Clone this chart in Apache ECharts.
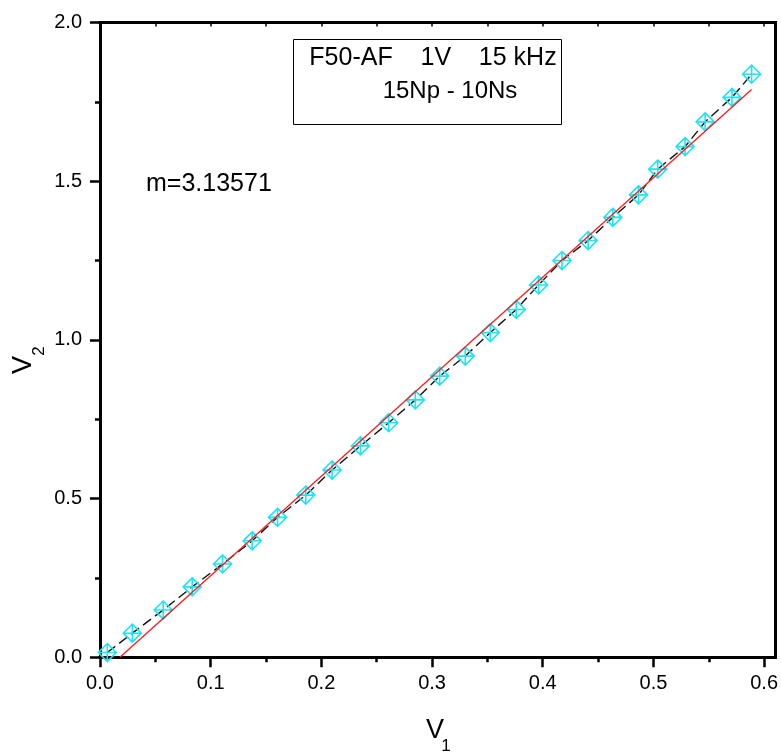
<!DOCTYPE html>
<html>
<head>
<meta charset="utf-8">
<title>F50-AF V2 vs V1</title>
<script src="https://cdn.jsdelivr.net/npm/echarts@6/dist/echarts.min.js"></script>
<style>
	html, body { margin: 0; padding: 0; background: #fff; }
	#main { width: 781px; height: 753px; }
</style>
</head>
<body>
<div id="main"></div>
<script>
	// measured points (V1 primary, V2 secondary)
	var v1 = [0.0066, 0.0292, 0.0571, 0.0833, 0.1107, 0.1375, 0.1604, 0.1859, 0.2097, 0.2353, 0.2608, 0.2849, 0.3069,
		0.3300, 0.3526, 0.3761, 0.3962, 0.4174, 0.4410, 0.4633, 0.4865, 0.5039, 0.5286, 0.5467, 0.5710, 0.5887];
	var v2 = [0.015, 0.076, 0.149, 0.222, 0.294, 0.367, 0.441, 0.511, 0.590, 0.666, 0.739, 0.811, 0.886,
		0.949, 1.023, 1.096, 1.173, 1.250, 1.313, 1.386, 1.457, 1.538, 1.609, 1.687, 1.764, 1.837];

	// linear fit, drawn between its two end points
	var fitX = [0.018, 0.5887];
	var fitY = [0.0, 1.789];
	var slopeText = 'm=3.13571';

	var xTicks = [0, 0.1, 0.2, 0.3, 0.4, 0.5, 0.6];
	var xMinor = [0.05, 0.15, 0.25, 0.35, 0.45, 0.55];
	var yTicks = [0, 0.5, 1.0, 1.5, 2.0];
	var yMinor = [0.25, 0.75, 1.25, 1.75];

	var font = 'Liberation Sans, Arial, sans-serif';
	var cyan = '#1ee4f4';

	function zip(a, b) {
		var out = [];
		for (var i = 0; i < a.length; i++) out.push([a[i], b[i]]);
		return out;
	}

	// one value axis, only the parts asked for are shown
	function axis(pos, max, opts) {
		return {
			type: 'value', position: pos, min: 0, max: max,
			splitLine: { show: false },
			axisLine: { show: !!opts.line, onZero: false, lineStyle: { color: '#000', width: 3, cap: 'square' } },
			axisTick: {
				show: !!opts.ticks, inside: !!opts.inside, customValues: opts.ticks || [],
				length: opts.len || 10, lineStyle: { color: '#000', width: opts.tw || 2.5 }
			},
			axisLabel: opts.labels ? {
				customValues: opts.labels, margin: opts.margin, color: '#000', fontSize: 20, fontFamily: font,
				formatter: function (v) { return v.toFixed(1); }
			} : { show: false }
		};
	}

	var myChart = echarts.init(document.getElementById('main'));

	var option = {
		animation: false,
		backgroundColor: '#fff',
		grid: { left: 100, right: 5, top: 22.5, bottom: 95.7 },
		xAxis: [
			axis('bottom', 0.61, { line: true, ticks: xTicks, labels: xTicks, margin: 16 }),
			axis('bottom', 0.61, { ticks: xMinor, len: 5 }),
			axis('top', 0.61, { line: true, ticks: xTicks.concat(xMinor), inside: true, len: 4, tw: 1.5 })
		],
		yAxis: [
			axis('left', 2, { line: true, ticks: yTicks, labels: yTicks, margin: 18 }),
			axis('left', 2, { ticks: yMinor, len: 5 }),
			axis('right', 2, { line: true })
		],
		series: [
			{
				type: 'line',
				data: zip(v1, v2),
				symbol: 'path://M10,0 L20,10 L10,20 L0,10 Z M10,0 L10,20 M0,10 L20,10',
				symbolSize: 18,
				showAllSymbol: true,
				lineStyle: { color: '#111', width: 1.4, type: [10, 5] },
				itemStyle: { color: 'rgba(0,0,0,0)', borderColor: cyan, borderWidth: 1.6 },
				emphasis: { disabled: true },
				z: 3
			},
			{
				type: 'line',
				data: zip(fitX, fitY),
				symbol: 'none',
				lineStyle: { color: '#ff1a1a', width: 1.3 },
				emphasis: { disabled: true },
				z: 4
			}
		],
		graphic: [
			{
				type: 'rect', left: 293, top: 39,
				shape: { width: 268, height: 85 },
				style: { fill: '#fff', stroke: '#000', lineWidth: 1 },
				z: 10
			},
			{
				type: 'text', x: 433, y: 58,
				style: { text: 'F50-AF    1V    15 kHz', fill: '#000', font: '25px ' + font, align: 'center', verticalAlign: 'middle' },
				z: 11
			},
			{
				type: 'text', x: 450, y: 91,
				style: { text: '15Np - 10Ns', fill: '#000', font: '24px ' + font, align: 'center', verticalAlign: 'middle' },
				z: 11
			},
			{
				type: 'text', x: 146, y: 184,
				style: { text: slopeText, fill: '#000', font: '25px ' + font, align: 'left', verticalAlign: 'middle' },
				z: 11
			},
			// axis titles with subscripts
			{
				type: 'text', x: 435, y: 731,
				style: { text: 'V', fill: '#000', font: '27px ' + font, align: 'center', verticalAlign: 'middle' }
			},
			{
				type: 'text', x: 446, y: 746,
				style: { text: '1', fill: '#000', font: '17px ' + font, align: 'center', verticalAlign: 'middle' }
			},
			{
				type: 'text', x: 24, y: 365, rotation: Math.PI / 2,
				style: { text: 'V', fill: '#000', font: '27px ' + font, align: 'center', verticalAlign: 'middle' }
			},
			{
				type: 'text', x: 39, y: 351, rotation: Math.PI / 2,
				style: { text: '2', fill: '#000', font: '17px ' + font, align: 'center', verticalAlign: 'middle' }
			}
		]
	};

	myChart.setOption(option);
</script>
</body>
</html>
